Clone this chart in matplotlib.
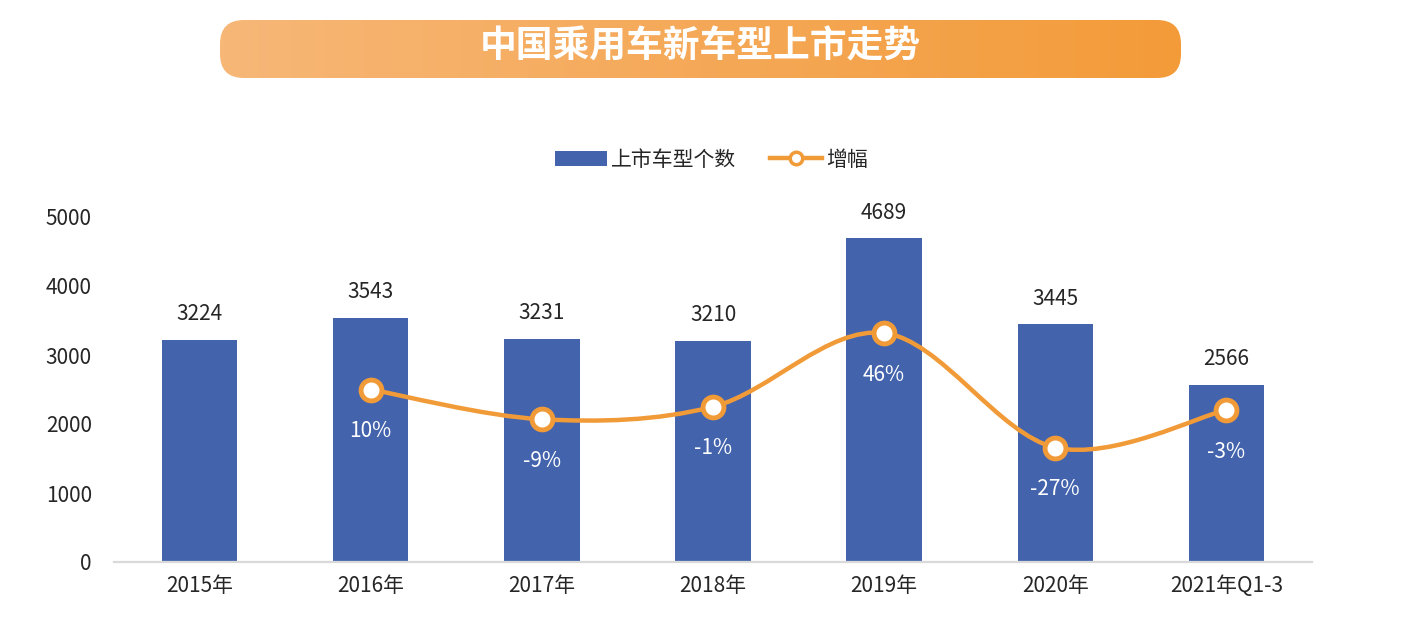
import numpy as np
import matplotlib
matplotlib.use('agg')
from matplotlib import pyplot as plt
from matplotlib.path import Path
from matplotlib.patches import PathPatch, FancyBboxPatch, Patch
from matplotlib.lines import Line2D

plt.rcParams['font.family'] = ['Noto Sans CJK SC', 'DejaVu Sans']

# data
categories = ['2015年', '2016年', '2017年', '2018年', '2019年', '2020年', '2021年Q1-3']
models = [3224, 3543, 3231, 3210, 4689, 3445, 2566]
growth = [None, 10, -9, -1, 46, -27, -3]
title = '中国乘用车新车型上市走势'

bar_color = '#4364AD'
line_color = '#F19A38'
text_color = '#262626'

fig = plt.figure(figsize=(14.03, 6.19), dpi=100)

# title banner, drawn in pixel coords
bg = fig.add_axes([0, 0, 1, 1], zorder=-1)
bg.set_xlim(0, 1403)
bg.set_ylim(619, 0)
bg.axis('off')
grad = np.linspace(0, 1, 256).reshape(1, -1)
cmap = matplotlib.colors.LinearSegmentedColormap.from_list('banner', ['#F7B777', '#F39B39'])
im = bg.imshow(grad, cmap=cmap, extent=(220, 1181, 78, 20), aspect='auto')
box = FancyBboxPatch((220, 20), 961, 58, boxstyle='round,pad=0,rounding_size=24',
                     facecolor='none', edgecolor='none', transform=bg.transData)
bg.add_patch(box)
im.set_clip_path(box)
bg.text(700, 47, title, color='white', fontsize=26.5, fontweight='bold',
        ha='center', va='center')

ax = fig.add_axes([114 / 1403, 1 - 562 / 619, 1198 / 1403, 345 / 619])
x = np.arange(len(categories))
ax.bar(x, models, width=0.44, color=bar_color, zorder=2)
for i, v in enumerate(models):
    ax.annotate(str(v), (i, v), xytext=(0, 18.5), textcoords='offset points',
                ha='center', va='center', fontsize=15, color=text_color)

ax.set_xlim(-0.5, len(categories) - 0.5)
ax.set_ylim(0, 5000)
ax.set_yticks(range(0, 5001, 1000))
ax.set_xticks(x)
ax.set_xticklabels(categories)
ax.tick_params(axis='both', length=0, labelsize=15, labelcolor=text_color)
ax.tick_params(axis='y', pad=16)
ax.tick_params(axis='x', pad=9)
for s in ['top', 'right', 'left']:
    ax.spines[s].set_visible(False)
ax.spines['bottom'].set_color('#D9D9D9')
ax.spines['bottom'].set_linewidth(1.6)
ax.spines['bottom'].set_zorder(3)

# growth on a hidden secondary axis, smoothed like excel
ax2 = ax.twinx()
ax2.set_ylim(-100, 120)
ax2.axis('off')
gx = np.array([i for i, g in enumerate(growth) if g is not None], dtype=float)
gy = np.array([g for g in growth if g is not None], dtype=float)
pts = np.column_stack([gx, gy])
n = len(pts)
verts = [pts[0]]
codes = [Path.MOVETO]
for i in range(n - 1):
    p0 = pts[i - 1] if i > 0 else pts[i]
    p1 = pts[i]
    p2 = pts[i + 1]
    p3 = pts[i + 2] if i + 2 < n else pts[i + 1]
    verts += [p1 + (p2 - p0) / 6, p2 - (p3 - p1) / 6, p2]
    codes += [Path.CURVE4] * 3
ax2.add_patch(PathPatch(Path(verts, codes), fill=False, edgecolor=line_color,
                        lw=3.2, capstyle='round', zorder=3))
ax2.plot(gx, gy, 'o', ms=15, mfc='white', mec=line_color, mew=3.5, zorder=4)
for xi, yi in zip(gx, gy):
    ax2.annotate(f'{int(yi)}%', (xi, yi), xytext=(0, -30), textcoords='offset points',
                 ha='center', va='center', fontsize=15, color='white')

handles = [Patch(facecolor=bar_color, edgecolor='none'),
           Line2D([], [], color=line_color, lw=3.2, marker='o', ms=9,
                  mfc='white', mec=line_color, mew=2.5)]
fig.legend(handles, ['上市车型个数', '增幅'], loc='center', bbox_to_anchor=(0.507, 0.742),
           ncol=2, frameon=False, fontsize=15, handlelength=2.5, handletextpad=0.2,
           columnspacing=1.6, labelcolor=text_color)

fig.savefig('out.png', dpi=100)
